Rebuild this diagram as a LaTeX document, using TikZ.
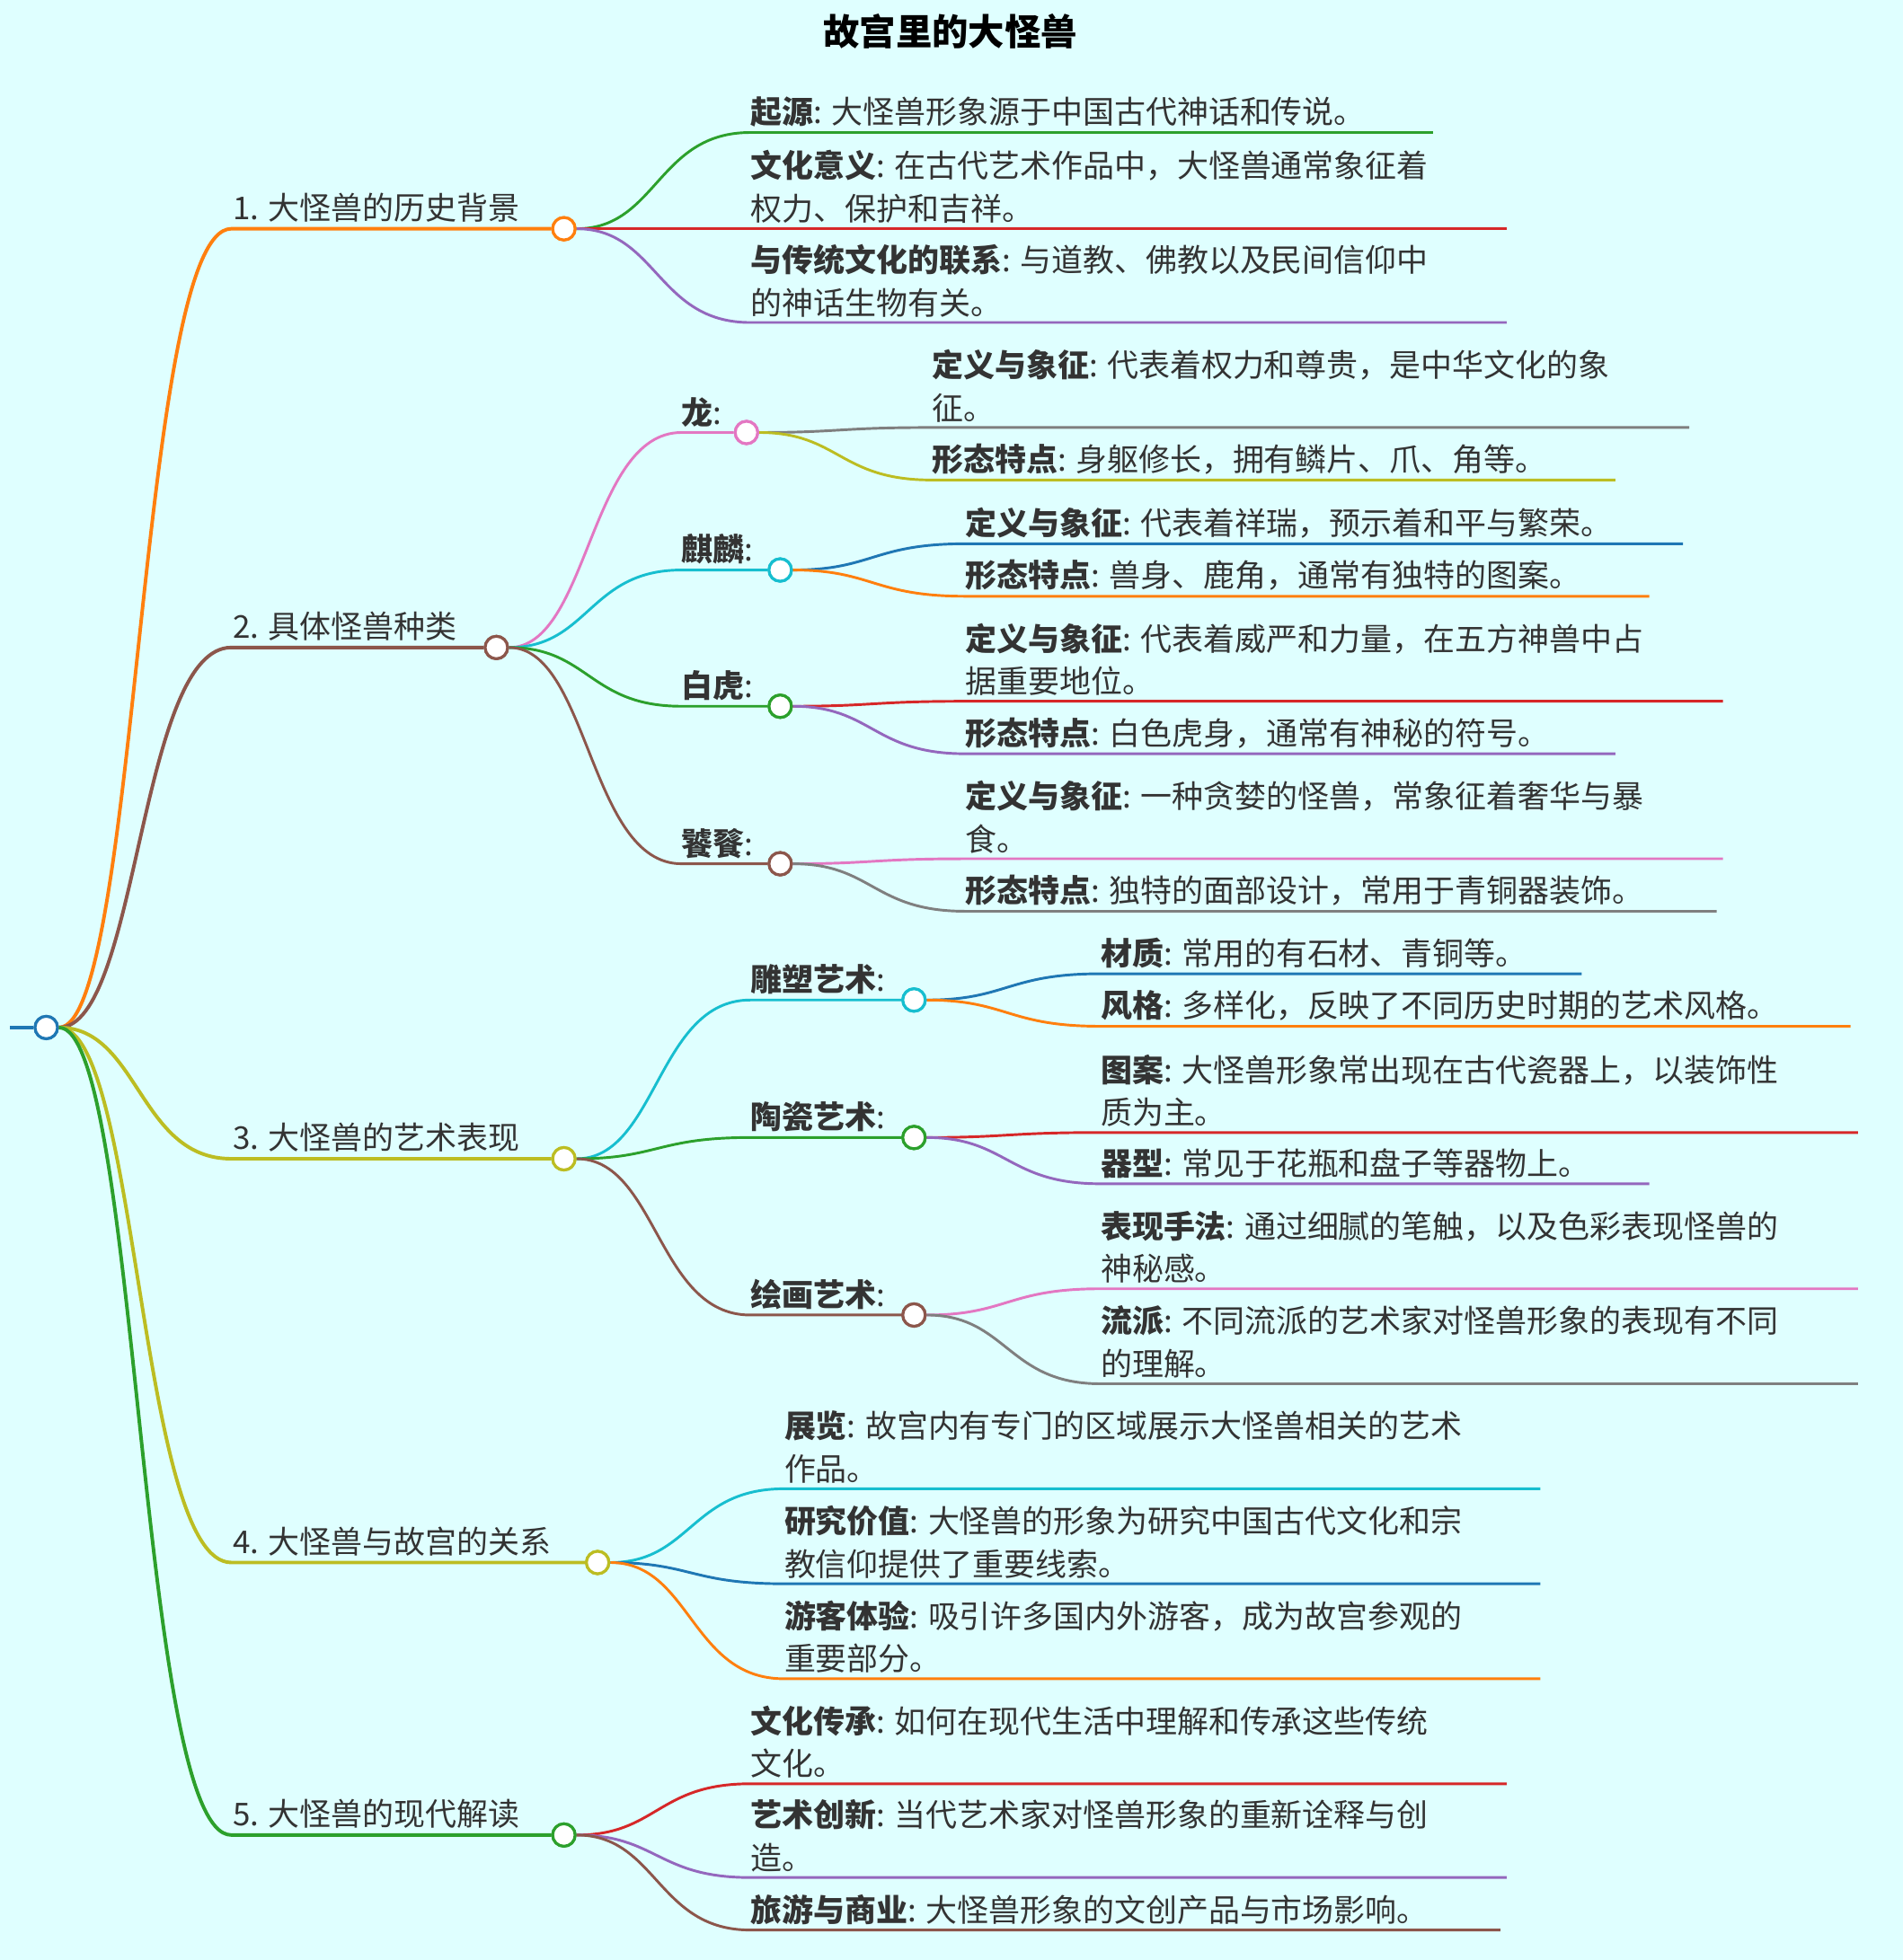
\documentclass[tikz,border=0pt]{standalone}
\usepackage{fontspec}
\setmainfont{Noto Sans CJK SC}
\usetikzlibrary{positioning, calc}
\definecolor{bgcyan}{HTML}{DFFFFF}
\definecolor{txt}{HTML}{333333}
\definecolor{mOrange}{HTML}{FF7F0E}
\definecolor{mBrown}{HTML}{8C564B}
\definecolor{mOlive}{HTML}{BCBD22}
\definecolor{mGreen}{HTML}{2CA02C}
\definecolor{mRed}{HTML}{D62728}
\definecolor{mPurple}{HTML}{9467BD}
\definecolor{mPink}{HTML}{E377C2}
\definecolor{mGray}{HTML}{7F7F7F}
\definecolor{mCyan}{HTML}{17BECF}
\definecolor{mBlue}{HTML}{1F77B4}
\tikzset{
    dot/.style={circle, draw=#1, fill=white, line width=1.3pt, minimum size=0.36cm, inner sep=0pt},
    lab/.style={anchor=south west, inner sep=0pt, align=left, text=txt, font=\fontsize{14.3}{19.5}\selectfont},
    edge1/.style={line width=1.6pt, #1},
    edge2/.style={line width=1.2pt, #1},
    curve/.style={to path={let \p1=(\tikztostart), \p2=(\tikztotarget) in
        .. controls ({(\x1+\x2)/2},\y1) and ({(\x1+\x2)/2},\y2) .. (\tikztotarget)}},
}
\newcommand{\kw}[1]{\textbf{#1}}
\begin{document}
\begin{tikzpicture}[x=0.02cm, y=-0.02cm]
    \useasboundingbox (0,0) rectangle (1522,1568);
    \fill[bgcyan] (0,0) rectangle (1522,1568);
    \node[font=\fontsize{16.5}{20}\selectfont\bfseries, text=black] (title) at (760,25) {故宫里的大怪兽};
    % root
    \coordinate (r0) at (8,822);
    \node[dot=mBlue] (root) at (37,822) {};
    % level one
    \coordinate (h1) at (185,183); \node[dot=mOrange] (c1) at (451,183) {};
    \coordinate (h2) at (185,518); \node[dot=mBrown] (c2) at (397,518) {};
    \coordinate (h3) at (185,927); \node[dot=mOlive] (c3) at (451,927) {};
    \coordinate (h4) at (185,1250); \node[dot=mOlive] (c4) at (478,1250) {};
    \coordinate (h5) at (185,1468); \node[dot=mGreen] (c5) at (451,1468) {};
    \draw[edge1=mBlue] (r0) -- (root);
    \draw[edge1=mOrange] (root) to[curve] (h1) -- (c1);
    \draw[edge1=mBrown] (root) to[curve] (h2) -- (c2);
    \draw[edge1=mOlive] (root) to[curve] (h3) -- (c3);
    \draw[edge1=mOlive] (root) to[curve] (h4) -- (c4);
    \draw[edge1=mGreen] (root) to[curve] (h5) -- (c5);
    \node[lab] (t1) at (186,178) {1. 大怪兽的历史背景};
    \node[lab] (t2) at (186,513) {2. 具体怪兽种类};
    \node[lab] (t3) at (186,922) {3. 大怪兽的艺术表现};
    \node[lab] (t4) at (186,1245) {4. 大怪兽与故宫的关系};
    \node[lab] (t5) at (186,1463) {5. 大怪兽的现代解读};
    % under 1
    \coordinate (a1) at (600,106); \coordinate (a1e) at (1146,106);
    \coordinate (a2) at (600,183); \coordinate (a2e) at (1205,183);
    \coordinate (a3) at (600,258); \coordinate (a3e) at (1205,258);
    \draw[edge2=mGreen] (c1) to[curve] (a1) -- (a1e);
    \draw[edge2=mRed] (c1) -- (a2) -- (a2e);
    \draw[edge2=mPurple] (c1) to[curve] (a3) -- (a3e);
    \node[lab] at (600,102) {\kw{起源}: 大怪兽形象源于中国古代神话和传说。};
    \node[lab] at (600,179) {\kw{文化意义}: 在古代艺术作品中，大怪兽通常象征着\\权力、保护和吉祥。};
    \node[lab] at (600,254) {\kw{与传统文化的联系}: 与道教、佛教以及民间信仰中\\的神话生物有关。};
    % under 2
    \coordinate (b1) at (545,346); \node[dot=mPink] (d1) at (597,346) {};
    \coordinate (b2) at (545,456); \node[dot=mCyan] (d2) at (624,456) {};
    \coordinate (b3) at (545,565); \node[dot=mGreen] (d3) at (624,565) {};
    \coordinate (b4) at (545,691); \node[dot=mBrown] (d4) at (624,691) {};
    \draw[edge2=mPink] (c2) to[curve] (b1) -- (d1);
    \draw[edge2=mCyan] (c2) to[curve] (b2) -- (d2);
    \draw[edge2=mGreen] (c2) to[curve] (b3) -- (d3);
    \draw[edge2=mBrown] (c2) to[curve] (b4) -- (d4);
    \node[lab] at (545,342) {\kw{龙}:};
    \node[lab] at (545,452) {\kw{麒麟}:};
    \node[lab] at (545,561) {\kw{白虎}:};
    \node[lab] at (545,687) {\kw{饕餮}:};
    \draw[edge2=mGray] (d1) to[curve] (745,342) -- (1351,342);
    \draw[edge2=mOlive] (d1) to[curve] (745,384) -- (1292,384);
    \node[lab] at (745,338) {\kw{定义与象征}: 代表着权力和尊贵，是中华文化的象\\征。};
    \node[lab] at (745,380) {\kw{形态特点}: 身躯修长，拥有鳞片、爪、角等。};
    \draw[edge2=mBlue] (d2) to[curve] (772,435) -- (1346,435);
    \draw[edge2=mOrange] (d2) to[curve] (772,477) -- (1319,477);
    \node[lab] at (772,431) {\kw{定义与象征}: 代表着祥瑞，预示着和平与繁荣。};
    \node[lab] at (772,473) {\kw{形态特点}: 兽身、鹿角，通常有独特的图案。};
    \draw[edge2=mRed] (d3) to[curve] (772,561) -- (1378,561);
    \draw[edge2=mPurple] (d3) to[curve] (772,603) -- (1292,603);
    \node[lab] at (772,557) {\kw{定义与象征}: 代表着威严和力量，在五方神兽中占\\据重要地位。};
    \node[lab] at (772,599) {\kw{形态特点}: 白色虎身，通常有神秘的符号。};
    \draw[edge2=mPink] (d4) to[curve] (772,687) -- (1378,687);
    \draw[edge2=mGray] (d4) to[curve] (772,729) -- (1373,729);
    \node[lab] at (772,683) {\kw{定义与象征}: 一种贪婪的怪兽，常象征着奢华与暴\\食。};
    \node[lab] at (772,725) {\kw{形态特点}: 独特的面部设计，常用于青铜器装饰。};
    % under 3
    \coordinate (e1) at (600,800); \node[dot=mCyan] (f1) at (731,800) {};
    \coordinate (e2) at (600,910); \node[dot=mGreen] (f2) at (731,910) {};
    \coordinate (e3) at (600,1052); \node[dot=mBrown] (f3) at (731,1052) {};
    \draw[edge2=mCyan] (c3) to[curve] (e1) -- (f1);
    \draw[edge2=mGreen] (c3) to[curve] (e2) -- (f2);
    \draw[edge2=mBrown] (c3) to[curve] (e3) -- (f3);
    \node[lab] at (600,796) {\kw{雕塑艺术}:};
    \node[lab] at (600,906) {\kw{陶瓷艺术}:};
    \node[lab] at (600,1048) {\kw{绘画艺术}:};
    \draw[edge2=mBlue] (f1) to[curve] (880,779) -- (1265,779);
    \draw[edge2=mOrange] (f1) to[curve] (880,821) -- (1480,821);
    \node[lab] at (880,775) {\kw{材质}: 常用的有石材、青铜等。};
    \node[lab] at (880,817) {\kw{风格}: 多样化，反映了不同历史时期的艺术风格。};
    \draw[edge2=mRed] (f2) to[curve] (880,906) -- (1486,906);
    \draw[edge2=mPurple] (f2) to[curve] (880,947) -- (1319,947);
    \node[lab] at (880,902) {\kw{图案}: 大怪兽形象常出现在古代瓷器上，以装饰性\\质为主。};
    \node[lab] at (880,943) {\kw{器型}: 常见于花瓶和盘子等器物上。};
    \draw[edge2=mPink] (f3) to[curve] (880,1031) -- (1486,1031);
    \draw[edge2=mGray] (f3) to[curve] (880,1107) -- (1486,1107);
    \node[lab] at (880,1027) {\kw{表现手法}: 通过细腻的笔触，以及色彩表现怪兽的\\神秘感。};
    \node[lab] at (880,1103) {\kw{流派}: 不同流派的艺术家对怪兽形象的表现有不同\\的理解。};
    % under 4
    \draw[edge2=mCyan] (c4) to[curve] (627,1191) -- (1232,1191);
    \draw[edge2=mBlue] (c4) to[curve] (627,1267) -- (1232,1267);
    \draw[edge2=mOrange] (c4) to[curve] (627,1343) -- (1232,1343);
    \node[lab] at (627,1187) {\kw{展览}: 故宫内有专门的区域展示大怪兽相关的艺术\\作品。};
    \node[lab] at (627,1263) {\kw{研究价值}: 大怪兽的形象为研究中国古代文化和宗\\教信仰提供了重要线索。};
    \node[lab] at (627,1339) {\kw{游客体验}: 吸引许多国内外游客，成为故宫参观的\\重要部分。};
    % under 5
    \draw[edge2=mRed] (c5) to[curve] (600,1427) -- (1205,1427);
    \draw[edge2=mPurple] (c5) to[curve] (600,1502) -- (1205,1502);
    \draw[edge2=mBrown] (c5) to[curve] (600,1544) -- (1200,1544);
    \node[lab] at (600,1423) {\kw{文化传承}: 如何在现代生活中理解和传承这些传统\\文化。};
    \node[lab] at (600,1498) {\kw{艺术创新}: 当代艺术家对怪兽形象的重新诠释与创\\造。};
    \node[lab] at (600,1540) {\kw{旅游与商业}: 大怪兽形象的文创产品与市场影响。};
    % circles on top
    \foreach \n/\c in {root/mBlue, c1/mOrange, c2/mBrown, c3/mOlive, c4/mOlive, c5/mGreen, d1/mPink, d2/mCyan, d3/mGreen, d4/mBrown, f1/mCyan, f2/mGreen, f3/mBrown}
        \node[dot=\c] at (\n) {};
\end{tikzpicture}
\end{document}
